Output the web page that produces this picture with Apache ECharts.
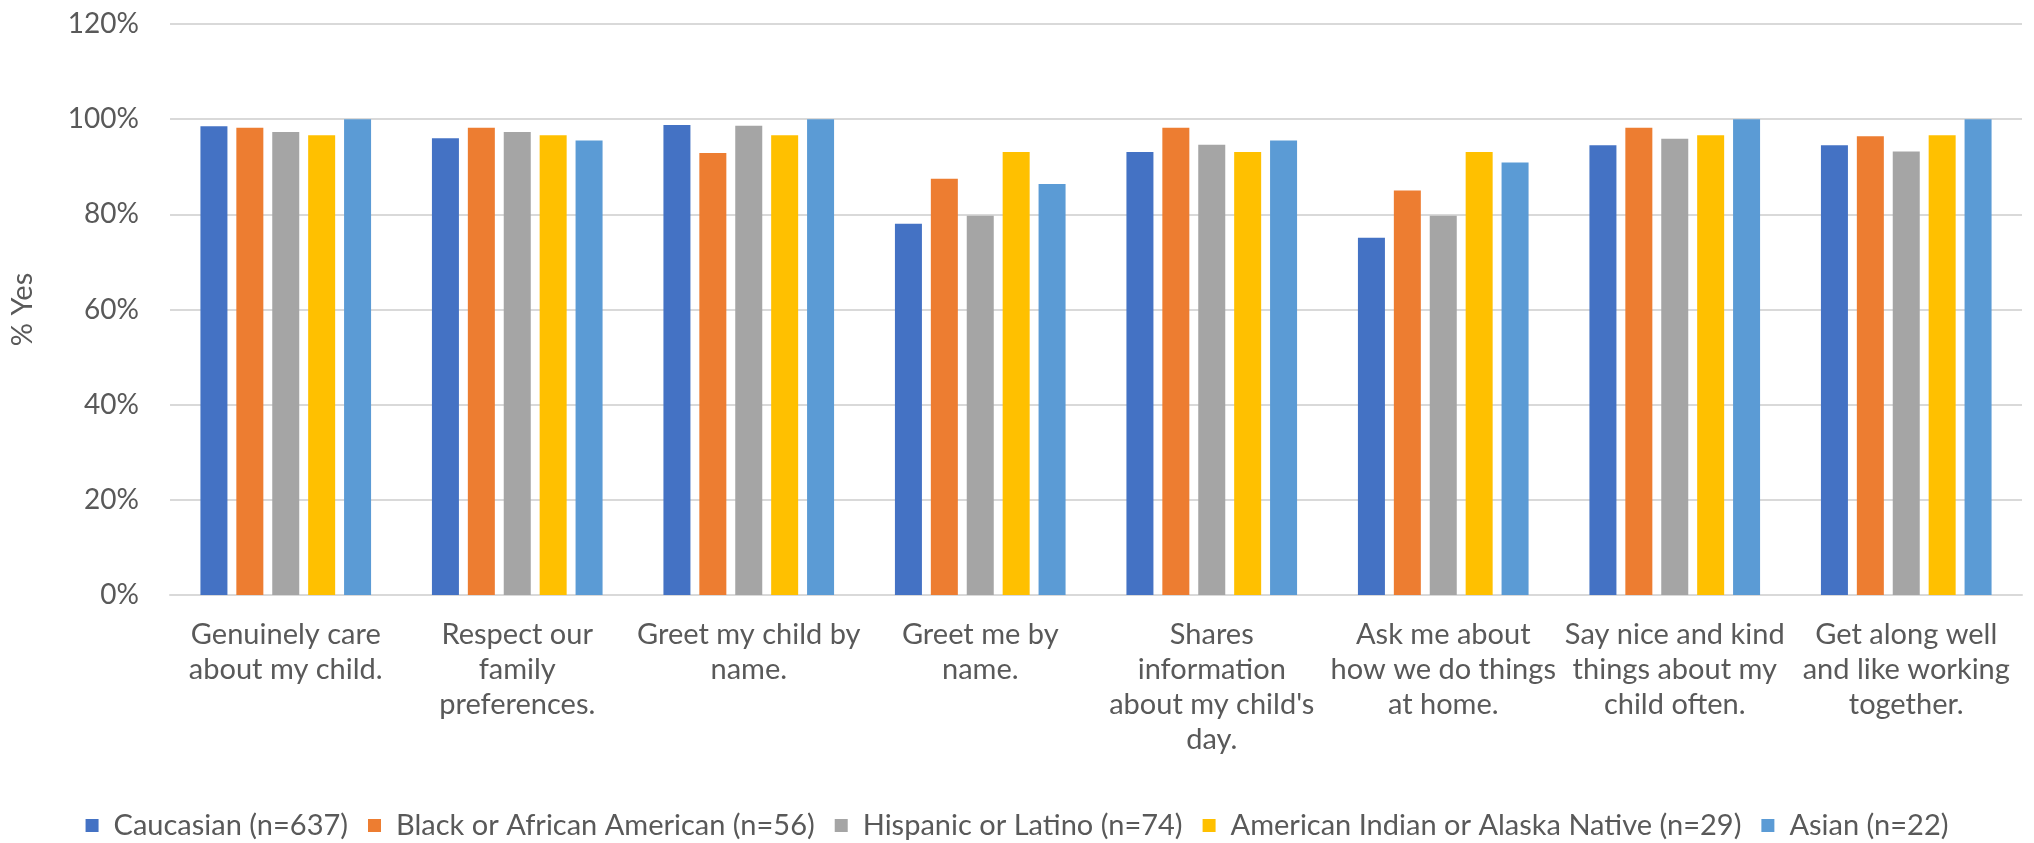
<!DOCTYPE html>
<html>
<head>
<meta charset="utf-8">
<script src="https://cdn.jsdelivr.net/npm/echarts@6/dist/echarts.min.js"></script>
<style>
  html, body { margin: 0; padding: 0; background: #ffffff; }
  #chart { width: 2034px; height: 843px; }
</style>
</head>
<body>
<div id="chart"></div>
<script>
// Survey items (x-axis categories), wrapped the way they are printed under each group
const categories = [
  'Genuinely care\nabout my child.',
  'Respect our\nfamily\npreferences.',
  'Greet my child by\nname.',
  'Greet me by\nname.',
  'Shares\ninformation\nabout my child\'s\nday.',
  'Ask me about\nhow we do things\nat home.',
  'Say nice and kind\nthings about my\nchild often.',
  'Get along well\nand like working\ntogether.'
];

// Group names shown in the legend
const seriesNames = [
  'Caucasian (n=637)',
  'Black or African American (n=56)',
  'Hispanic or Latino (n=74)',
  'American Indian or Alaska Native (n=29)',
  'Asian (n=22)'
];

// Percent answering "yes", one value per survey item
const caucasian = [98.5, 96.0, 98.8, 78.0, 93.1, 75.1, 94.5, 94.5];
const black     = [98.2, 98.2, 92.9, 87.5, 98.2, 85.0, 98.2, 96.4];
const hispanic  = [97.3, 97.3, 98.6, 79.7, 94.6, 79.7, 95.9, 93.2];
const amIndian  = [96.6, 96.6, 96.6, 93.1, 93.1, 93.1, 96.6, 96.6];
const asian     = [100, 95.5, 100, 86.4, 95.5, 90.9, 100, 100];

// Value axis range and ticks
const yMin = 0;
const yMax = 120;
const yStep = 20;

const seriesValues = [caucasian, black, hispanic, amIndian, asian];
const colors = ['#4472C4', '#ED7D31', '#A5A5A5', '#FFC000', '#5B9BD5'];

const textColor = '#595959';
const fontFamily = 'Lato, "Open Sans", sans-serif';

const chart = echarts.init(document.getElementById('chart'), null, { renderer: 'canvas' });

chart.setOption({
  animation: false,
  color: colors,
  grid: { left: 158, right: 12, top: 24, bottom: 248, containLabel: false },
  legend: {
    data: seriesNames,
    top: 806,
    left: 'center',
    icon: 'rect',
    itemWidth: 13,
    itemHeight: 13,
    itemGap: 20,
    textStyle: {
      color: textColor,
      fontFamily: fontFamily,
      fontSize: 29,
      padding: [0, 0, 0, 10]
    }
  },
  xAxis: {
    type: 'category',
    data: categories,
    axisTick: { show: false },
    axisLine: { lineStyle: { color: '#D9D9D9', width: 2 } },
    axisLabel: {
      interval: 0,
      margin: 22,
      color: textColor,
      fontFamily: fontFamily,
      fontSize: 29,
      lineHeight: 35,
      align: 'center'
    }
  },
  yAxis: {
    type: 'value',
    min: yMin,
    max: yMax,
    interval: yStep,
    name: '% Yes',
    nameLocation: 'middle',
    nameGap: 133,
    nameRotate: 90,
    nameTextStyle: {
      color: textColor,
      fontFamily: fontFamily,
      fontSize: 29
    },
    axisLine: { show: false },
    axisTick: { show: false },
    axisLabel: {
      formatter: '{value}%',
      margin: 31,
      color: textColor,
      fontFamily: fontFamily,
      fontSize: 28
    },
    splitLine: { lineStyle: { color: '#D9D9D9', width: 2 } }
  },
  series: seriesNames.map((name, i) => ({
    name: name,
    type: 'bar',
    data: seriesValues[i],
    barWidth: 27,
    barGap: '33%'
  }))
});
</script>
</body>
</html>
